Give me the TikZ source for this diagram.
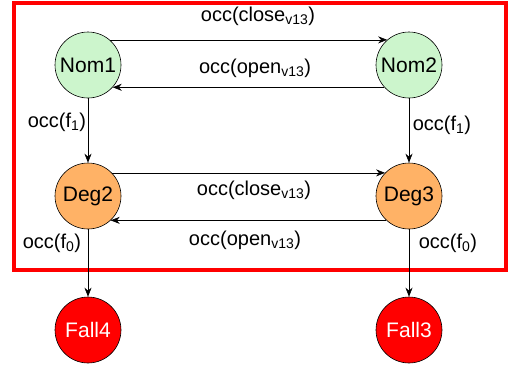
\documentclass[tikz,border=0pt]{standalone}
\usepackage{fontspec}
\setmainfont{Liberation Sans}
\usepackage{tikz}
\usetikzlibrary{arrows.meta}

\definecolor{nomgreen}{RGB}{204,245,204}
\definecolor{degorange}{RGB}{255,178,102}
\definecolor{failred}{RGB}{255,0,0}

\begin{document}
\begin{tikzpicture}[
            x=1pt, y=-1pt,
            state/.style={circle, draw, line width=0.6pt, minimum size=66pt, inner sep=0pt, font=\fontsize{21}{24}\selectfont},
            nominal/.style={state, fill=nomgreen},
            degraded/.style={state, fill=degorange},
            failed/.style={state, fill=failred, text=white},
            occ_label/.style={font=\fontsize{20}{23}\selectfont},
            line/.style={draw, line width=0.6pt, -{Stealth[length=9pt, width=7pt]}}
        ]
        \useasboundingbox (0,0) rectangle (510,370);

        % Frame round the working states
        \draw[failred, line width=4pt] (14,3) rectangle (506,270);

        % Nominal states
        \node[nominal] (nom1) at (88,65) {Nom1};
        \node[nominal] (nom2) at (409,65) {Nom2};

        % Degraded states
        \node[degraded] (deg2) at (88,196) {Deg2};
        \node[degraded] (deg3) at (409,196) {Deg3};

        % Failed states
        \node[failed] (fall4) at (88,330) {Fall4};
        \node[failed] (fall3) at (409,330) {Fall3};

        % Labels
        \node[occ_label] (close_top) at (258,16) {occ(close\textsubscript{v13})};
        \node[occ_label] (open_top) at (255,68) {occ(open\textsubscript{v13})};
        \node[occ_label] (close_mid) at (254,190) {occ(close\textsubscript{v13})};
        \node[occ_label] (open_mid) at (245,240) {occ(open\textsubscript{v13})};
        \node[occ_label] (f1_left) at (57,122) {occ(f\textsubscript{1})};
        \node[occ_label] (f1_right) at (442,125) {occ(f\textsubscript{1})};
        \node[occ_label] (f0_left) at (52,243) {occ(f\textsubscript{0})};
        \node[occ_label] (f0_right) at (448,243) {occ(f\textsubscript{0})};

        \draw[line] (nom1.49) -- (nom2.131);
        \draw[line] (nom2.-138) -- (nom1.-42);

        \draw[line] (deg2.44) -- (deg3.136);
        \draw[line] (deg3.-133) -- (deg2.-47);

        \draw[line] (nom1) -- (deg2);
        \draw[line] (nom2) -- (deg3);

        \draw[line] (deg2) -- (fall4);
        \draw[line] (deg3) -- (fall3);

    \end{tikzpicture}
\end{document}
